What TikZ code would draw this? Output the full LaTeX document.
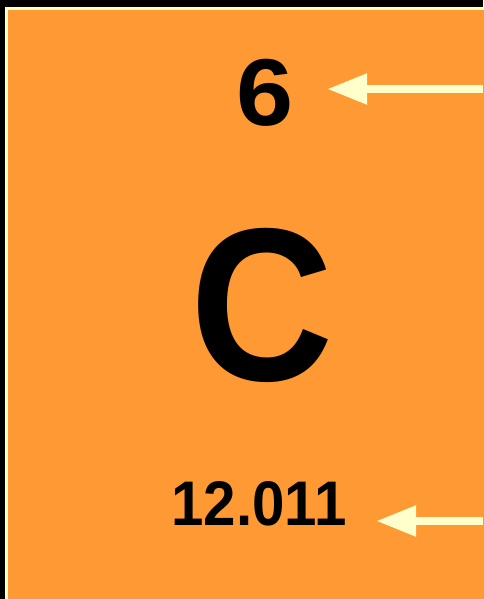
\documentclass[tikz,border=0pt]{standalone}
\usepackage{fontspec}
\setmainfont{Liberation Sans}
\usetikzlibrary{arrows.meta}
\definecolor{tileorange}{RGB}{255,153,51}
\definecolor{cream}{RGB}{255,255,204}
\tikzset{
  num/.style={inner sep=0pt, font=\bfseries},
  pointer/.style={draw=cream, line width=8pt, -{Triangle[length=40pt, width=29pt]}}
}
\begin{document}
\begin{tikzpicture}[x=1pt, y=-1pt]
\useasboundingbox (0,0) rectangle (483,599);
\fill[black] (0,0) rectangle (483,599);
\fill[tileorange] (5,7) rectangle (490,610);
\draw[cream, line width=3pt] (490,8.5) -- (6.5,8.5) -- (6.5,610);
\node[num, xscale=1.08, font=\bfseries\fontsize{95}{95}\selectfont] (z) at (265,93) {6};
\node[num, xscale=0.91, font=\bfseries\fontsize{218}{218}\selectfont] (sym) at (262,305) {C};
\node[num, xscale=0.925, font=\bfseries\fontsize{63}{63}\selectfont] (mass) at (259,504) {12.011};
\coordinate (r1) at (483,89);
\coordinate (t1) at (327,89);
\coordinate (r2) at (483,521);
\coordinate (t2) at (376,521);
\draw[pointer] (r1) -- (t1);
\draw[pointer] (r2) -- (t2);
\end{tikzpicture}
\end{document}
